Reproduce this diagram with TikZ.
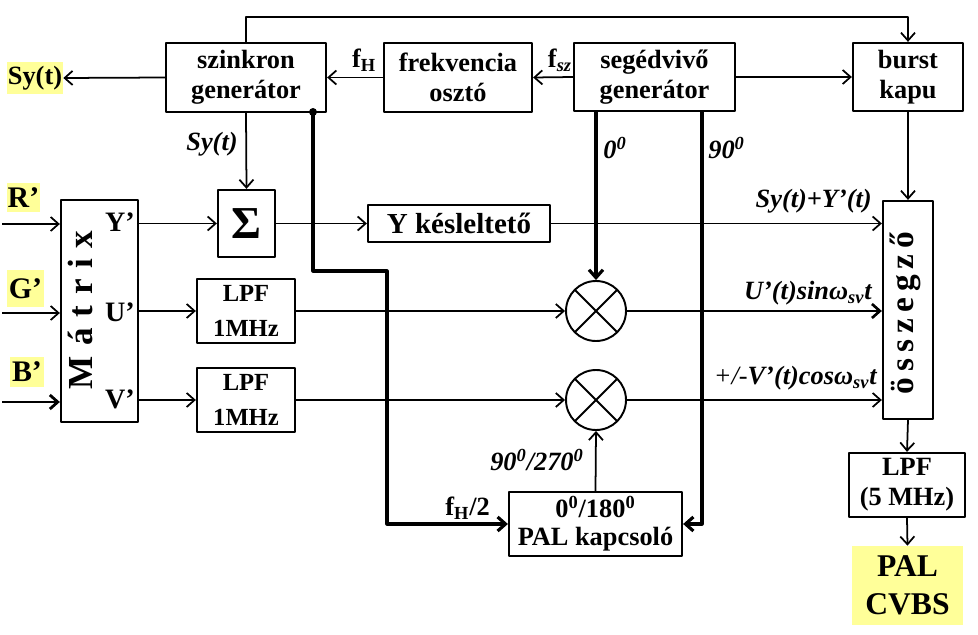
\documentclass[tikz,border=0pt]{standalone}
\usepackage{fontspec}
\setmainfont{Liberation Serif}
\usetikzlibrary{arrows.meta}
\definecolor{hlyellow}{RGB}{255,255,153}
\begin{document}
\begin{tikzpicture}[x=0.02cm,y=-0.02cm,>={Straight Barb[length=4.5pt,width=8pt]},line join=round]
\tikzset{blokk/.style={draw,line width=1.3pt,align=center,inner sep=0pt,font=\bfseries\fontsize{15}{17}\selectfont},
	lpf/.style={blokk,minimum width=1.96cm,minimum height=1.28cm,font=\bfseries\fontsize{14}{20}\selectfont},
	kever/.style={draw,circle,line width=1.1pt,minimum size=1.2cm,inner sep=0pt,
		path picture={\draw[line width=1.1pt] (path picture bounding box.north west)--(path picture bounding box.south east)
			(path picture bounding box.south west)--(path picture bounding box.north east);}},
	felirat/.style={inner sep=0pt,font=\bfseries\fontsize{15}{17}\selectfont},
	dolt/.style={inner sep=0pt,font=\bfseries\itshape\fontsize{15}{17}\selectfont},
	kiemel/.style={fill=hlyellow,inner sep=0pt,align=center,font=\bfseries\fontsize{15}{17}\selectfont},
	jel/.style={line width=1pt},
	vastag/.style={line width=1.8pt},
	pont/.style={circle,fill,inner sep=0pt,minimum size=0.16cm}}
\def\lsp{\hspace{.18em}}
\def\msp{\hspace{.3em}}
\useasboundingbox (0,0) rectangle (978,635);
%% felso sor
\node[blokk,minimum width=3.2cm,minimum height=1.38cm] (szink) at (246,77.5) {szinkron\\generátor};
\node[blokk,minimum width=2.96cm,minimum height=1.38cm] (oszto) at (458,77.5) {frekvencia\\osztó};
\node[blokk,minimum width=3.22cm,minimum height=1.36cm] (segv) at (654.5,77) {segédvivő\\generátor};
\node[blokk,minimum width=2.2cm,minimum height=1.36cm] (burst) at (908,77) {burst\\kapu};
\node[kiemel,minimum width=1.12cm,minimum height=0.64cm] (syki) at (35,78) {Sy(t)};
%% bemenetek, matrix
\node[kiemel,minimum width=0.66cm,minimum height=0.58cm,font=\bfseries\fontsize{17}{17}\selectfont] (rv) at (23.5,197.5) {R’};
\node[kiemel,minimum width=0.74cm,minimum height=0.74cm,font=\bfseries\fontsize{17}{17}\selectfont] (gv) at (25.5,288.5) {G’};
\node[kiemel,minimum width=0.68cm,minimum height=0.6cm,font=\bfseries\fontsize{17}{17}\selectfont] (bv) at (27,372) {B’};
\node[blokk,minimum width=1.54cm,minimum height=4.44cm] (matrix) at (99.5,311) {};
\node[felirat,rotate=90,font=\bfseries\fontsize{20}{20}\selectfont] (mtxt) at (80,310) {M\msp á\msp t\msp r\msp i\msp x};
\node[felirat,font=\bfseries\fontsize{16}{16}\selectfont] (ly) at (120,222) {Y’};
\node[felirat,font=\bfseries\fontsize{16}{16}\selectfont] (lu) at (120,312) {U’};
\node[felirat,font=\bfseries\fontsize{16}{16}\selectfont] (lv) at (120,399) {V’};
%% kozepso blokkok
\node[blokk,minimum width=1.14cm,minimum height=1.34cm,font=\bfseries\fontsize{26}{26}\selectfont] (sigma) at (246.5,223.5) {Σ};
\node[blokk,minimum width=3.64cm,minimum height=0.74cm,font=\bfseries\fontsize{16.5}{17}\selectfont] (ydel) at (459,223.5) {Y késleltető};
\node[lpf] (lpf1) at (246,311) {LPF\\1MHz};
\node[lpf] (lpf2) at (246,400) {LPF\\1MHz};
\node[kever] (mix1) at (596,311) {};
\node[kever] (mix2) at (596,400) {};
\node[blokk,minimum width=3.46cm,minimum height=1.28cm,font=\bfseries\fontsize{15}{16}\selectfont] (pal) at (595.5,524) {0\textsuperscript{0}/180\textsuperscript{0}\\PAL kapcsoló};
%% jobb oldal
\node[blokk,minimum width=1cm,minimum height=4.36cm] (osszeg) at (908,310) {};
\node[felirat,rotate=90,font=\bfseries\fontsize{19}{19}\selectfont] (otxt) at (905,313) {ö\lsp s\lsp s\lsp z\lsp e\lsp g\lsp z\lsp ő};
\node[blokk,minimum width=2.32cm,minimum height=1.28cm,font=\bfseries\fontsize{15}{17}\selectfont] (lpf5) at (907,485) {LPF\\(5 MHz)};
\node[kiemel,minimum width=2.22cm,minimum height=1.58cm,font=\bfseries\fontsize{18}{21.6}\selectfont] (cvbs) at (907.5,585.5) {PAL\\CVBS};
%% feliratok
\node[felirat] (lfh) at (364,60) {f\textsubscript{H}};
\node[felirat] (lfsz) at (560,60) {f\textsubscript{\textit{sz}}};
\node[dolt] (lsy) at (212,144) {Sy(t)};
\node[dolt,anchor=west] (l0) at (603,148) {0\textsuperscript{0}};
\node[dolt,anchor=west] (l90) at (708,148) {90\textsuperscript{0}};
\node[dolt,anchor=east] (lsyy) at (872,201) {Sy(t)+Y’(t)};
\node[dolt,anchor=east] (lusin) at (872,293) {U’(t)sinω\textsubscript{sv}t};
\node[dolt,anchor=east] (lvcos) at (877,378) {{\mdseries +/-}V’(t)cosω\textsubscript{sv}t};
\node[dolt] (l9027) at (537,460) {90\textsuperscript{0}/270\textsuperscript{0}};
\node[felirat,anchor=west] (lfh2) at (445,508) {f\textsubscript{H}/2};
%% osszekotesek
\draw[jel,->] (szink.north) -- ++(0,-25) -| (burst.north);
\draw[jel,->] (szink.west) -- (syki.east);
\draw[jel,->] (oszto.west) -- (szink.east);
\draw[jel,->] (segv.west) -- (oszto.east);
\draw[jel,->] (segv.east) -- (burst.west);
\draw[jel,->] (burst.south) -- (osszeg.north);
\draw[jel,->] (szink.south) -- (sigma.north);
\coordinate (rbe) at (2,224);
\coordinate (gbe) at (2,313);
\coordinate (bbe) at (2,402);
\draw[jel,->] (rbe) -- (rbe -| matrix.west);
\draw[jel,->] (gbe) -- (gbe -| matrix.west);
\draw[line width=1.6pt,->] (bbe) -- (bbe -| matrix.west);
\draw[jel,->] (matrix.east |- sigma.west) -- (sigma.west);
\draw[jel,->] (matrix.east |- lpf1.west) -- (lpf1.west);
\draw[jel,->] (matrix.east |- lpf2.west) -- (lpf2.west);
\draw[jel,->] (sigma.east) -- (ydel.west);
\draw[jel,->] (ydel.east) -- (ydel.east -| osszeg.west);
\draw[jel,->] (lpf1.east) -- (mix1.west);
\draw[jel,->] (lpf2.east) -- (mix2.west);
\draw[line width=1.5pt,->] (mix1.east) -- (mix1.east -| osszeg.west);
\draw[jel,->] (mix2.east) -- (mix2.east -| osszeg.west);
\draw[vastag,->] (segv.south -| mix1.north) -- (mix1.north);
\coordinate (c90) at (702,0);
\draw[vastag,->] (segv.south -| c90) |- (pal.east);
\draw[jel,->] (pal.north) -- (mix2.south);
\node[pont] (sdot) at (313,112) {};
\coordinate (k1) at (313,271);
\coordinate (k2) at (387,271);
\draw[vastag,->] (sdot.center) -- (k1) -- (k2) |- (pal.west);
\draw[jel,->] (osszeg.south) -- (lpf5.north);
\draw[jel,->] (lpf5.south) -- (cvbs.north);
\end{tikzpicture}
\end{document}
